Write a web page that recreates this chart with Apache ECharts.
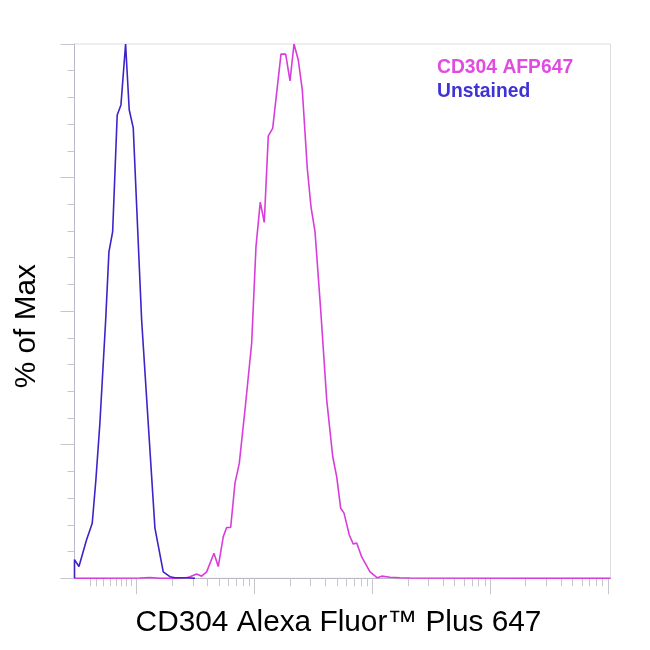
<!DOCTYPE html>
<html>
<head>
<meta charset="utf-8">
<script src="https://cdn.jsdelivr.net/npm/echarts@6/dist/echarts.min.js"></script>
<style>
html,body{margin:0;padding:0;background:#fff;}
#chart{width:650px;height:650px;}
</style>
</head>
<body>
<div id="chart"></div>
<script>
// Fluorescence (log axis) and % of Max
const axisMin = 29.7;
const axisMax = 1.05e6;

const unstainedX = [29.7, 29.7, 32.4, 37.6, 42.0, 45.1, 48.8, 54.6, 58.2, 62.6, 68.4, 73.6, 80.6, 86.5, 93.6, 110.3, 143.0, 168.2, 191.7, 211.4, 265.7, 312.6];
const unstainedY = [0, 3.5, 2.2, 7.2, 10.3, 18.4, 29.1, 48.3, 61.1, 64.9, 86.7, 88.6, 100, 87.7, 84.3, 48.3, 9.4, 1.2, 0.3, 0.1, 0.1, 0];

const stainedX = [29.7, 106.7, 129.7, 157.7, 211.4, 265.7, 283.5, 323.1, 356.2, 392.8, 453.2, 492.8, 543.5, 580.7, 628.1, 683.2, 743.0, 830.6, 946.7, 1030, 1120, 1211, 1310, 1427, 1679, 1840, 2002, 2165, 2354, 2546, 2807, 3018, 3263, 3648, 4102, 4612, 4988, 5392, 5752, 6378, 6898, 7372, 8128, 9561, 11030, 12020, 14140, 17190, 20890, 1.05e6];
const stainedY = [0, 0.05, 0.15, 0, 0, 0.1, 0.3, 0.8, 0.4, 1.2, 4.7, 2.2, 7.8, 9.5, 9.5, 17.8, 21.5, 31.5, 44.0, 62.1, 70.4, 66.6, 82.8, 84.2, 98.1, 98.1, 93.1, 100, 97.0, 91.4, 76.7, 69.5, 64.9, 50.2, 33.4, 22.8, 19.0, 13.1, 12.2, 8.1, 6.4, 6.6, 4.0, 1.2, 0.1, 0.4, 0.2, 0.1, 0.05, 0];

const seriesNames = ['CD304 AFP647', 'Unstained'];
const xTitle = 'CD304 Alexa Fluor™ Plus 647';
const yTitle = '% of Max';

// x-axis tick positions
const majorTicks = [100, 1000, 10000, 100000, 1000000];
const lowMinorTicks = [40.2, 45.8, 52, 59.4, 67.3, 74.6, 82.3, 90.7];
const decadeMultipliers = [2, 3, 4, 5, 6, 7, 8, 9];
const decades = [100, 1000, 10000, 100000];

const minorTicks = lowMinorTicks.slice();
decades.forEach(d => decadeMultipliers.forEach(m => minorTicks.push(m * d)));

const zip = (xs, ys) => xs.map((x, i) => [x, ys[i]]);

const chart = echarts.init(document.getElementById('chart'), null, {renderer: 'canvas'});
const FONT = '"Liberation Sans", Arial, Helvetica, sans-serif';
const tickColor = '#c6c6cc';

chart.setOption({
  animation: false,
  backgroundColor: '#ffffff',
  grid: {
    left: 74.5, right: 39.5, top: 44, bottom: 71.7,
    containLabel: false,
    outerBoundsMode: 'none',
    show: true, borderColor: '#dcdcdc', borderWidth: 1, backgroundColor: 'transparent'
  },
  legend: {
    show: true,
    orient: 'vertical',
    left: 427, top: 51,
    itemWidth: 0, itemHeight: 0, itemGap: 0,
    icon: 'circle',
    selectedMode: false,
    data: [
      {name: seriesNames[0], textStyle: {color: '#e04ce0'}},
      {name: seriesNames[1], textStyle: {color: '#3f33d6'}}
    ],
    textStyle: {fontFamily: FONT, fontSize: 19.3, fontWeight: 'bold', lineHeight: 24, padding: 0}
  },
  xAxis: [
    {
      type: 'log', logBase: 10, min: axisMin, max: axisMax,
      position: 'bottom',
      name: xTitle, nameLocation: 'middle', nameGap: 29,
      nameTextStyle: {fontFamily: FONT, fontSize: 29.8, color: '#000', padding: [0, 8, 0, 0]},
      axisLine: {show: true, lineStyle: {color: '#b8b8c6', width: 1}},
      axisTick: {show: true, length: 8, customValues: minorTicks, lineStyle: {color: tickColor, width: 1}},
      axisLabel: {show: false},
      splitLine: {show: false},
      minorTick: {show: false}
    },
    {
      type: 'log', logBase: 10, min: axisMin, max: axisMax,
      position: 'bottom',
      axisLine: {show: false},
      axisTick: {show: true, length: 16, customValues: majorTicks, lineStyle: {color: tickColor, width: 1}},
      axisLabel: {show: false},
      splitLine: {show: false}
    }
  ],
  yAxis: {
    type: 'value', min: 0, max: 100, interval: 25,
    name: yTitle, nameLocation: 'middle', nameGap: 33, nameRotate: 90,
    nameTextStyle: {fontFamily: FONT, fontSize: 29.8, color: '#000', padding: [0, 30, 0, 0]},
    axisLine: {show: true, lineStyle: {color: '#b8b8c6', width: 1}},
    axisTick: {show: true, length: 14, lineStyle: {color: tickColor, width: 1}},
    minorTick: {show: true, splitNumber: 5, length: 7, lineStyle: {color: tickColor, width: 1}},
    axisLabel: {show: false},
    splitLine: {show: false}
  },
  series: [
    {
      name: seriesNames[0], type: 'line', xAxisIndex: 0,
      data: zip(stainedX, stainedY),
      showSymbol: false, symbol: 'none', smooth: false,
      lineStyle: {color: '#d83ddc', width: 1.6},
      itemStyle: {color: '#d83ddc'}
    },
    {
      name: seriesNames[1], type: 'line', xAxisIndex: 0,
      data: zip(unstainedX, unstainedY),
      showSymbol: false, symbol: 'none', smooth: false,
      lineStyle: {color: '#3d24c8', width: 1.6},
      itemStyle: {color: '#3d24c8'}
    }
  ]
});
</script>
</body>
</html>
